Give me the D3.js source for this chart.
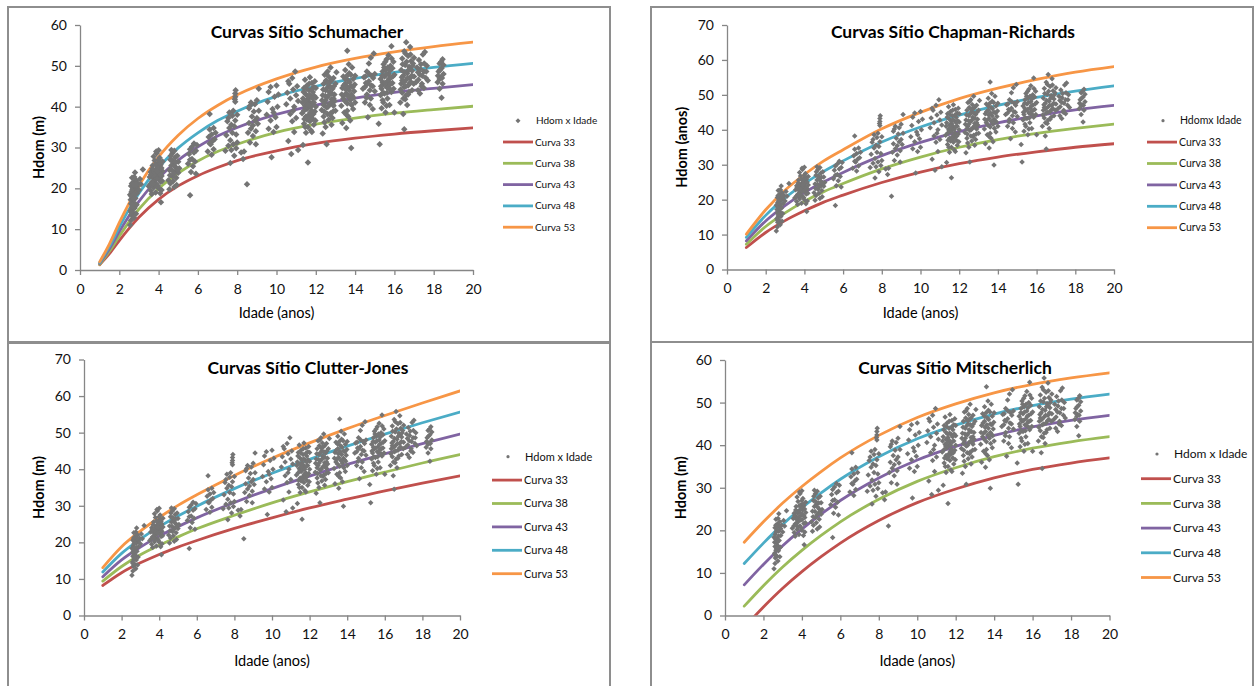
<!DOCTYPE html>
<html>
<head>
<meta charset="utf-8">
<script src="https://cdn.jsdelivr.net/npm/d3@7"></script>
<style>
body { margin: 0; background: #fff; }
svg { display: block; font-family: Lato, "Open Sans", sans-serif; }
</style>
</head>
<body>
<svg id="chart" width="1256" height="686"></svg>
<script>
// ---- data ----
const curveNames = ["Curva 33", "Curva 38", "Curva 43", "Curva 48", "Curva 53"]
const xTicks = [0, 2, 4, 6, 8, 10, 12, 14, 16, 18, 20]
const yTicks60 = [0, 10, 20, 30, 40, 50, 60]
const yTicks70 = [0, 10, 20, 30, 40, 50, 60, 70]

// Schumacher
const schAges = [1, 1.5, 2, 2.5, 3, 4, 5, 6, 7, 8, 10, 12, 14, 16, 18, 20]
const schCurves = [
    [1.3, 4.0, 7.2, 10.2, 12.9, 17.3, 20.6, 23.1, 25.1, 26.8, 29.2, 31.0, 32.3, 33.3, 34.1, 34.8],
    [1.4, 4.6, 8.3, 11.8, 14.9, 19.9, 23.7, 26.7, 29.0, 30.8, 33.7, 35.7, 37.2, 38.4, 39.3, 40.1],
    [1.6, 5.2, 9.4, 13.3, 16.8, 22.5, 26.9, 30.2, 32.8, 34.9, 38.1, 40.4, 42.1, 43.5, 44.5, 45.4],
    [1.8, 5.8, 10.5, 14.9, 18.8, 25.1, 29.9, 33.6, 36.6, 38.9, 42.5, 45.0, 46.9, 48.4, 49.6, 50.6],
    [2.0, 6.4, 11.6, 16.4, 20.7, 27.7, 33.0, 37.1, 40.3, 42.9, 46.8, 49.7, 51.8, 53.4, 54.7, 55.8]
]

// Chapman-Richards
const crAges = [1, 2, 3, 4, 5, 6, 8, 10, 12, 14, 16, 18, 20]
const crCurves = [
    [6.3, 10.6, 14.0, 16.8, 19.3, 21.3, 24.9, 27.9, 30.3, 32.2, 33.7, 35.0, 36.0],
    [7.2, 12.3, 16.2, 19.5, 22.3, 24.6, 28.8, 32.2, 35.0, 37.2, 39.0, 40.4, 41.6],
    [8.2, 13.9, 18.3, 22.0, 25.1, 27.8, 32.6, 36.4, 39.5, 42.0, 44.0, 45.7, 47.0],
    [9.2, 15.5, 20.5, 24.6, 28.1, 31.1, 36.5, 40.8, 44.2, 47.0, 49.3, 51.1, 52.6],
    [10.1, 17.1, 22.7, 27.2, 31.1, 34.3, 40.3, 45.0, 48.9, 51.9, 54.4, 56.5, 58.1]
]

// Clutter-Jones
const cjAges = [1, 2, 3, 4, 5, 6, 8, 10, 12, 14, 16, 18, 20]
const cjCurves = [
    [8.2, 11.7, 14.4, 16.7, 18.7, 20.5, 23.8, 26.7, 29.4, 31.8, 34.1, 36.2, 38.2],
    [9.4, 13.4, 16.6, 19.2, 21.5, 23.7, 27.4, 30.8, 33.8, 36.6, 39.2, 41.7, 44.0],
    [10.6, 15.2, 18.7, 21.7, 24.3, 26.7, 30.9, 34.7, 38.1, 41.3, 44.2, 47.0, 49.6],
    [11.9, 17.0, 20.9, 24.3, 27.2, 29.9, 34.7, 38.9, 42.7, 46.3, 49.6, 52.7, 55.6],
    [13.1, 18.8, 23.1, 26.8, 30.1, 33.0, 38.3, 43.0, 47.2, 51.1, 54.7, 58.1, 61.4]
]

// Mitscherlich
const miAges = [1, 2, 3, 4, 5, 6, 8, 10, 12, 14, 16, 18, 20]
const miCurves = [
    [-2.8, 2.0, 6.4, 10.3, 13.8, 17.0, 22.3, 26.5, 29.7, 32.3, 34.3, 35.8, 37.0],
    [2.2, 7.0, 11.4, 15.3, 18.8, 22.0, 27.3, 31.5, 34.7, 37.3, 39.3, 40.8, 42.0],
    [7.2, 12.0, 16.4, 20.3, 23.8, 27.0, 32.3, 36.5, 39.7, 42.3, 44.3, 45.8, 47.0],
    [12.2, 17.0, 21.4, 25.3, 28.8, 32.0, 37.3, 41.5, 44.7, 47.3, 49.3, 50.8, 52.0],
    [17.2, 22.0, 26.4, 30.3, 33.8, 37.0, 42.3, 46.5, 49.7, 52.3, 54.3, 55.8, 57.0]
]

// observed plots [idade, hdom]
const hdomIdade = [
    [2.55,11.0],[2.6,12.2],[2.62,13.5],[2.58,14.6],[2.65,15.3],[2.6,16.2],[2.7,14.0],[2.68,17.0],[2.55,18.4],[2.62,19.1],
    [2.7,18.0],[2.75,16.4],[2.8,19.8],[2.6,20.6],[2.72,21.5],[2.85,22.0],[2.78,15.2],[2.82,17.6],[2.9,20.4],[2.65,22.6],
    [2.8,23.9],[2.9,18.8],[2.75,12.8],[2.95,21.2],[3.0,19.6],[2.88,16.0],[2.7,20.0],[3.05,22.3],[2.58,17.2],[2.85,13.8],
    [2.62,18.0],[2.66,19.6],[2.72,20.8],[2.78,18.6],[2.74,17.4],[2.68,15.8],[2.6,14.2],[2.82,21.0],[2.76,22.8],[2.64,21.2],
    [3.2,24.6],[3.1,21.0],
    [3.5,20.5],[3.55,22.8],[3.6,24.0],[3.6,19.5],[3.65,21.5],[3.7,23.2],[3.7,25.6],[3.75,20.2],[3.8,22.0],[3.8,26.8],
    [3.85,24.6],[3.85,19.0],[3.9,21.0],[3.9,28.6],[3.95,23.5],[3.95,26.0],[4.0,29.3],[4.0,20.0],[4.0,22.5],[4.05,24.8],
    [4.05,27.5],[4.1,21.6],[4.1,25.8],[4.15,23.0],[4.15,19.6],[4.2,26.6],[4.2,24.2],[3.75,27.8],[3.65,18.6],[4.12,16.6],
    [3.88,29.0],[4.08,18.8],[3.72,22.6],[3.98,25.2],[4.18,21.8],[3.58,21.0],
    [3.62,23.4],[3.68,24.8],[3.74,21.8],[3.78,24.0],[3.82,23.0],[3.86,25.8],[3.92,22.4],[3.96,20.6],[4.02,23.8],[4.06,26.2],
    [4.1,23.4],[4.14,25.0],[3.8,20.8],[3.9,24.2],[4.0,27.0],[3.7,21.2],
    [4.5,22.0],[4.55,24.5],[4.6,27.0],[4.6,21.2],[4.65,25.6],[4.7,28.6],[4.7,23.0],[4.75,26.2],[4.8,20.3],[4.8,29.2],
    [4.85,24.0],[4.85,27.6],[4.9,22.6],[4.9,25.0],[4.95,28.0],[5.0,23.8],[5.0,26.5],[4.55,19.8],[4.75,21.8],[4.65,29.4],
    [4.92,20.8],[5.05,24.9],[4.58,23.2],[4.68,24.4],[4.72,26.8],[4.78,23.6],[4.82,25.4],[4.88,26.4],[4.62,28.0],[4.96,24.6],
    [5.5,26.0],[5.55,28.4],[5.6,18.3],[5.6,29.6],[5.65,24.0],[5.7,27.2],[5.7,30.2],[5.75,25.4],[5.8,28.8],[5.8,31.0],
    [5.85,26.6],[5.9,29.2],[5.9,23.6],[5.95,30.6],[5.6,27.0],
    [6.5,29.0],[6.55,32.6],[6.6,38.2],[6.6,34.4],[6.65,30.8],[6.7,28.2],[6.7,33.2],[6.75,31.6],[6.8,29.6],[6.8,34.8],
    [6.85,32.0],[6.9,33.6],[6.6,31.0],
    [7.4,29.2],[7.45,33.0],[7.5,36.4],[7.55,30.4],[7.6,38.6],[7.6,34.8],[7.65,26.2],[7.65,31.8],[7.7,35.6],[7.7,29.4],
    [7.75,37.8],[7.75,33.6],[7.8,30.8],[7.8,39.0],[7.85,35.2],[7.85,28.0],[7.9,41.2],[7.9,42.4],[7.9,43.2],[7.92,44.0],
    [7.88,41.8],[7.9,36.6],[7.95,33.2],[8.0,38.0],[8.0,31.2],[7.55,37.2],[7.95,29.8],
    [8.2,28.8],[8.3,27.2],[8.35,29.0],[8.5,21.0],
    [8.55,33.6],[8.6,36.0],[8.6,39.6],[8.65,31.2],[8.7,34.6],[8.7,41.0],[8.75,37.6],[8.8,35.4],[8.8,32.8],[8.85,38.8],
    [8.9,36.6],[8.9,40.6],[8.95,34.0],[9.0,37.2],[9.0,41.6],[9.05,35.8],[9.1,44.4],[9.1,39.0],[8.65,40.2],[8.95,30.8],
    [9.5,38.0],[9.55,41.2],[9.6,43.6],[9.7,36.6],[9.7,44.8],[9.75,27.6],[9.8,39.4],[9.85,33.8],[9.9,42.4],[9.95,37.4],
    [10.0,35.0],[10.0,45.2],[10.05,40.0],[9.6,34.6],[9.85,38.6],[10.1,43.0],
    [10.5,40.6],[10.55,43.4],[10.6,31.6],[10.65,45.6],[10.7,38.2],[10.7,42.0],[10.75,28.4],[10.8,36.4],[10.8,47.0],[10.85,44.2],
    [10.9,40.0],[10.9,33.8],[10.95,48.6],[11.0,42.8],[11.0,37.2],[11.05,45.0],[11.1,29.4],[11.1,41.4],[10.6,46.2],[10.85,39.0],
    [11.3,38.4],[11.35,42.0],[11.35,30.6],[11.4,44.6],[11.4,35.8],[11.45,40.2],[11.45,46.6],[11.5,33.6],[11.5,37.6],[11.5,43.0],
    [11.55,39.4],[11.55,45.2],[11.6,26.3],[11.6,41.8],[11.6,35.0],[11.65,38.0],[11.65,44.0],[11.7,36.4],[11.7,40.6],[11.7,47.2],
    [11.75,42.6],[11.75,34.2],[11.8,39.0],[11.8,45.8],[11.85,37.0],[11.85,43.6],[11.9,41.0],[11.9,35.6],[11.95,38.8],[11.95,46.2],
    [12.0,42.2],[12.0,40.0],[11.4,39.0],[11.55,36.8],[11.65,41.2],[11.8,33.8],[11.9,44.8],[11.5,41.4],[11.75,37.8],[12.0,44.6],
    [11.32,41.0],[11.38,43.6],[11.42,37.0],[11.48,39.8],[11.52,44.4],[11.58,42.6],[11.62,39.8],[11.62,37.2],[11.68,42.8],[11.72,38.6],
    [11.78,44.2],[11.82,40.8],[11.88,38.2],[11.92,42.6],[11.98,36.6],[11.66,45.6],[11.46,35.0],[11.74,40.0],[11.84,42.0],[11.56,40.6],
    [12.3,39.2],[12.35,42.8],[12.35,33.4],[12.4,45.6],[12.4,37.6],[12.45,41.0],[12.45,47.8],[12.5,35.0],[12.5,44.0],[12.55,30.8],
    [12.55,39.8],[12.6,42.4],[12.6,48.6],[12.65,36.8],[12.65,45.0],[12.7,40.6],[12.7,43.6],[12.75,38.4],[12.75,49.6],[12.8,41.8],
    [12.8,46.4],[12.85,37.2],[12.85,44.4],[12.9,40.2],[12.9,47.0],[12.95,43.0],[13.0,39.0],[13.0,45.6],[12.4,40.4],[12.6,38.2],
    [12.7,46.0],[12.9,42.0],[12.5,41.6],[12.8,35.6],[13.05,48.4],
    [12.32,41.6],[12.38,44.2],[12.42,38.8],[12.48,42.6],[12.52,46.4],[12.58,44.6],[12.62,40.0],[12.66,42.8],[12.72,38.0],[12.76,44.8],
    [12.82,43.2],[12.86,40.6],[12.92,45.0],[12.96,41.4],[12.44,36.2],[12.54,48.0],[12.68,47.2],[12.78,41.0],[12.88,38.8],[12.62,45.8],
    [13.3,40.2],[13.35,44.6],[13.35,36.0],[13.4,47.4],[13.4,42.0],[13.45,38.6],[13.5,45.6],[13.5,49.0],[13.55,34.8],[13.55,43.2],
    [13.6,53.7],[13.6,40.8],[13.65,46.4],[13.65,37.6],[13.7,44.0],[13.7,48.2],[13.75,41.6],[13.75,36.6],[13.8,29.9],[13.8,45.0],
    [13.85,42.6],[13.85,49.6],[13.9,39.4],[13.9,46.8],[13.95,43.8],[14.0,41.0],[14.0,47.6],[13.45,42.8],[13.6,39.0],[13.8,43.0],
    [13.5,46.8],[13.32,43.0],[13.42,45.2],[13.48,41.4],[13.52,44.2],[13.58,47.6],[13.62,44.8],[13.66,42.4],[13.72,46.0],[13.78,47.8],
    [13.82,40.4],[13.88,44.8],[13.92,42.2],[13.98,45.4],[13.56,38.0],[13.68,50.4],
    [14.4,44.4],[14.45,47.2],[14.5,41.0],[14.55,45.8],[14.6,48.6],[14.6,43.0],[14.65,37.4],[14.7,46.2],[14.7,50.6],[14.75,44.0],
    [14.8,42.0],[14.8,52.0],[14.85,47.6],[14.9,45.0],[14.9,39.4],[14.95,53.0],[15.0,48.0],[15.0,43.8],[14.5,44.8],[14.75,40.4],
    [14.52,47.4],[14.62,45.6],[14.72,48.0],[14.82,45.2],[14.92,47.0],[14.58,42.2],
    [15.25,30.8],[15.2,35.8],[15.3,42.8],[15.3,46.8],[15.35,44.4],[15.35,39.6],[15.4,48.6],[15.4,41.6],[15.45,45.6],[15.45,50.4],
    [15.5,43.2],[15.5,47.4],[15.55,38.6],[15.55,49.0],[15.6,44.8],[15.6,51.6],[15.65,46.2],[15.65,42.0],[15.7,48.0],[15.7,52.6],
    [15.75,40.4],[15.75,45.4],[15.8,50.0],[15.8,47.0],[15.85,43.6],[15.85,54.8],[15.9,49.4],[15.9,45.8],[15.95,51.0],[16.0,47.8],
    [16.0,38.6],[15.4,46.0],[15.6,40.2],[15.8,44.2],
    [15.32,45.0],[15.38,47.6],[15.42,43.4],[15.48,49.6],[15.52,45.8],[15.58,47.8],[15.62,43.4],[15.66,49.6],[15.72,46.8],[15.76,48.8],
    [15.82,45.6],[15.86,51.8],[15.92,47.4],[15.96,44.4],[15.68,44.6],[15.54,51.0],[15.44,41.0],
    [16.3,41.0],[16.35,45.6],[16.35,49.0],[16.4,43.4],[16.4,51.8],[16.45,38.2],[16.45,47.6],[16.5,34.5],[16.5,44.8],[16.5,53.6],
    [16.55,50.2],[16.55,41.8],[16.6,46.6],[16.6,55.8],[16.65,48.2],[16.65,40.4],[16.7,52.4],[16.7,45.2],[16.75,49.8],[16.75,43.6],
    [16.8,47.0],[16.8,54.6],[16.85,51.2],[16.85,46.0],[16.9,48.8],[16.9,44.0],[16.95,50.6],[17.0,47.4],[17.0,52.0],[16.4,46.4],
    [16.6,42.8],[16.8,49.4],
    [16.32,44.2],[16.38,47.2],[16.42,50.4],[16.48,46.0],[16.52,48.4],[16.58,45.0],[16.62,51.0],[16.68,47.0],[16.72,49.0],[16.78,45.8],
    [16.82,52.8],[16.88,47.6],[16.92,50.0],[16.98,45.6],[16.56,53.0],[16.46,42.0],[16.7,43.0],
    [17.1,46.0],[17.15,49.6],[17.2,44.0],[17.25,51.4],[17.3,47.8],[17.3,43.2],[17.35,50.4],[17.4,45.6],[17.45,52.8],[17.5,48.6],
    [17.5,44.6],[17.55,53.4],[17.6,47.0],[17.65,50.0],[17.7,46.4],[17.2,48.4],
    [17.22,46.6],[17.32,49.2],[17.42,47.6],[17.52,50.6],[17.62,48.6],[17.38,45.0],
    [18.2,46.0],[18.25,48.6],[18.3,44.4],[18.3,50.6],[18.35,47.2],[18.4,42.2],[18.4,49.4],[18.45,51.6],[18.45,45.6],[18.5,48.0],
    [18.5,50.2],[18.3,46.8],[18.22,47.6],[18.32,49.0],[18.42,47.0],[18.38,51.0]
]

// ---- styles ----
const curveColors = ["#C0504D", "#9BBB59", "#8064A2", "#4BACC6", "#F79646"]
const pointColor = "#747474"
const axisColor = "#868686"

const panels = [
    {id: "sch", title: "Curvas Sítio Schumacher", ylab: "Hdom (m)", hlab: "Hdom x Idade",
     ages: schAges, curves: schCurves, ymax: 60, yticks: yTicks60,
     box: [8, 7, 610, 342], x0: 80, x1: 473, y0: 270, y1: 25,
     titleX: 307, titleY: 32, ylabX: 39, xlabY: 313,
     legX: 503, legY: 120.7, legStep: 21.3, legFont: 10, marker: 6.5, legMarker: "diamond"},
    {id: "cr", title: "Curvas Sítio Chapman-Richards", ylab: "Hdom (anos)", hlab: "Hdomx Idade",
     ages: crAges, curves: crCurves, ymax: 70, yticks: yTicks70,
     box: [651, 7, 1253, 342], x0: 727, x1: 1114, y0: 269.5, y1: 25,
     titleX: 953, titleY: 32, ylabX: 682, xlabY: 313,
     legX: 1147, legY: 120.7, legStep: 21.4, legFont: 10.5, marker: 5.5, legMarker: "dot"},
    {id: "cj", title: "Curvas Sítio Clutter-Jones", ylab: "Hdom (m)", hlab: "Hdom x Idade",
     ages: cjAges, curves: cjCurves, ymax: 70, yticks: yTicks70,
     box: [8, 343, 610, 700], x0: 84, x1: 460, y0: 615.5, y1: 359.5,
     titleX: 308, titleY: 367.5, ylabX: 39, xlabY: 661,
     legX: 492, legY: 456.7, legStep: 23.4, legFont: 11, marker: 5.5, legMarker: "dot"},
    {id: "mi", title: "Curvas Sítio Mitscherlich", ylab: "Hdom (m)", hlab: "Hdom x Idade",
     ages: miAges, curves: miCurves, ymax: 60, yticks: yTicks60,
     box: [651, 342, 1253, 700], x0: 725, x1: 1109.5, y0: 615.5, y1: 360,
     titleX: 955, titleY: 367.5, ylabX: 681, xlabY: 661,
     legX: 1141, legY: 454, legStep: 24.7, legFont: 12, marker: 5.5, legMarker: "dot"}
]

const svg = d3.select("#chart")

function diamond(cx, cy, s) {
    const h = s / 2
    return "M" + cx + "," + (cy - h) + "L" + (cx + h) + "," + cy + "L" + cx + "," + (cy + h) + "L" + (cx - h) + "," + cy + "Z"
}

function draw_panel(p) {
    const g = svg.append("g").attr("id", p.id)

    g.append("rect")
        .attr("x", p.box[0]).attr("y", p.box[1])
        .attr("width", p.box[2] - p.box[0]).attr("height", p.box[3] - p.box[1])
        .attr("fill", "#fff").attr("stroke", "#8e8e8e").attr("stroke-width", 2)

    const x = d3.scaleLinear().domain([0, 20]).range([p.x0, p.x1])
    const y = d3.scaleLinear().domain([0, p.ymax]).range([p.y0, p.y1])

    const xAxis = g.append("g")
        .attr("transform", "translate(0," + p.y0 + ")")
        .call(d3.axisBottom(x).tickValues(xTicks).tickSize(5).tickSizeOuter(0).tickPadding(9))
    const yAxis = g.append("g")
        .attr("transform", "translate(" + p.x0 + ",0)")
        .call(d3.axisLeft(y).tickValues(p.yticks).tickSize(5).tickSizeOuter(0).tickPadding(8))
    ;[xAxis, yAxis].forEach(a => {
        a.select(".domain").attr("stroke", axisColor).attr("stroke-width", 1.3)
        a.selectAll(".tick line").attr("stroke", axisColor).attr("stroke-width", 1.3)
        a.selectAll(".tick text").attr("fill", "#111").style("font-size", "14px")
            .style("font-family", "Lato, sans-serif")
    })

    // clip to plot area like the spreadsheet does
    g.append("clipPath").attr("id", "clip_" + p.id)
        .append("rect")
        .attr("x", p.x0).attr("y", p.y1)
        .attr("width", p.x1 - p.x0).attr("height", p.y0 - p.y1)

    const line = d3.line()
        .x((d, i) => x(p.ages[i]))
        .y(d => y(d))
        .curve(d3.curveMonotoneX)

    const plot = g.append("g").attr("clip-path", "url(#clip_" + p.id + ")")

    p.curves.forEach((c, i) => {
        plot.append("path")
            .datum(c)
            .attr("fill", "none")
            .attr("stroke", curveColors[i])
            .attr("stroke-width", 2.8)
            .attr("stroke-linecap", "round")
            .attr("d", line)
    })

    plot.selectAll("path.pt")
        .data(hdomIdade)
        .enter().append("path")
        .attr("class", "pt")
        .attr("fill", pointColor)
        .attr("d", d => diamond(x(d[0]), y(d[1]), p.marker))

    // legend
    const lg = g.append("g").style("font-size", p.legFont + "px").attr("fill", "#111")
    if (p.legMarker === "diamond") {
        lg.append("path").attr("fill", pointColor).attr("d", diamond(p.legX + 15, p.legY, 5))
    } else {
        lg.append("circle").attr("fill", pointColor).attr("cx", p.legX + 16).attr("cy", p.legY).attr("r", 1.6)
    }
    lg.append("text").attr("x", p.legX + 33).attr("y", p.legY).attr("dy", "0.35em").text(p.hlab)
    curveNames.forEach((n, i) => {
        const ly = p.legY + p.legStep * (i + 1)
        lg.append("line")
            .attr("x1", p.legX).attr("x2", p.legX + 30)
            .attr("y1", ly).attr("y2", ly)
            .attr("stroke", curveColors[i]).attr("stroke-width", 2.8)
        lg.append("text").attr("x", p.legX + 32).attr("y", ly).attr("dy", "0.35em").text(n)
    })

    // titles
    g.append("text")
        .attr("x", p.titleX).attr("y", p.titleY).attr("dy", "0.35em")
        .attr("text-anchor", "middle")
        .style("font-size", "17.5px").style("font-weight", "bold")
        .text(p.title)
    g.append("text")
        .attr("x", (p.x0 + p.x1) / 2).attr("y", p.xlabY).attr("dy", "0.35em")
        .attr("text-anchor", "middle")
        .style("font-size", "14.5px")
        .text("Idade (anos)")
    g.append("text")
        .attr("transform", "translate(" + p.ylabX + "," + ((p.y0 + p.y1) / 2) + ") rotate(-90)")
        .attr("dy", "0.35em")
        .attr("text-anchor", "middle")
        .style("font-size", "14.5px").style("font-weight", "bold")
        .text(p.ylab)
}

panels.forEach(draw_panel)
</script>
</body>
</html>
